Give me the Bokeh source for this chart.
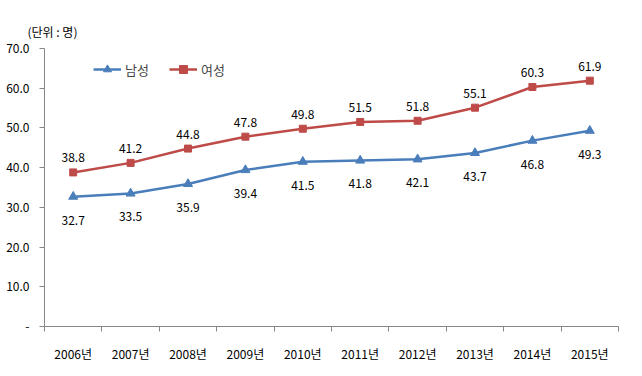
from bokeh.plotting import figure
from bokeh.models import ColumnDataSource, FixedTicker, Legend, LegendItem, Title, Range1d
from bokeh.embed import file_html
from bokeh.resources import INLINE
from bokeh.core.properties import value

years = ["2006년", "2007년", "2008년", "2009년", "2010년", "2011년", "2012년", "2013년", "2014년", "2015년"]
male = [32.7, 33.5, 35.9, 39.4, 41.5, 41.8, 42.1, 43.7, 46.8, 49.3]
female = [38.8, 41.2, 44.8, 47.8, 49.8, 51.5, 51.8, 55.1, 60.3, 61.9]
y_ticks = [0, 10, 20, 30, 40, 50, 60, 70]
y_tick_labels = ["-", "10.0", "20.0", "30.0", "40.0", "50.0", "60.0", "70.0"]

FONT = "Noto Sans CJK KR"
BLUE = "#4A7EBB"
RED = "#BE4B48"

xs = [i + 0.5 for i in range(len(years))]
src = ColumnDataSource(dict(
    x=xs, male=male, female=female,
    male_lbl=[f"{v:.1f}" for v in male],
    female_lbl=[f"{v:.1f}" for v in female],
))

p = figure(width=642, height=376, output_backend="svg", toolbar_location=None,
           x_range=Range1d(0, len(years)), y_range=Range1d(0, 70),
           min_border_left=44, min_border_right=24, min_border_top=48, min_border_bottom=50)
p.outline_line_color = None
p.xgrid.grid_line_color = None
p.ygrid.grid_line_color = None
p.background_fill_color = "white"
p.border_fill_color = "white"

# X axis
p.xaxis.ticker = FixedTicker(ticks=xs, minor_ticks=list(range(len(years) + 1)))
p.xaxis.major_label_overrides = {x: y for x, y in zip(xs, years)}
p.xaxis.major_tick_line_color = None
p.xaxis.minor_tick_in = 0
p.xaxis.minor_tick_out = 5
p.xaxis.minor_tick_line_color = "#868686"
p.xaxis.axis_line_color = "#868686"
p.xaxis.major_label_text_font = FONT
p.xaxis.major_label_text_font_size = "12px"
p.xaxis.major_label_text_color = "#000000"
p.xaxis.major_label_standoff = 12

# Y axis
p.yaxis.ticker = FixedTicker(ticks=y_ticks, minor_ticks=[])
p.yaxis.major_label_overrides = {t: l for t, l in zip(y_ticks, y_tick_labels)}
p.yaxis.major_tick_in = 0
p.yaxis.major_tick_out = 5
p.yaxis.major_tick_line_color = "#868686"
p.yaxis.axis_line_color = "#868686"
p.yaxis.major_label_text_font = FONT
p.yaxis.major_label_text_font_size = "12px"
p.yaxis.major_label_text_color = "#000000"
p.yaxis.major_label_standoff = 10

# Lines and markers
lm = p.line("x", "male", source=src, line_color=BLUE, line_width=2.5)
mm = p.scatter("x", "male", source=src, marker="triangle", size=9, fill_color=BLUE, line_color=BLUE)
lf = p.line("x", "female", source=src, line_color=RED, line_width=2.5)
mf = p.scatter("x", "female", source=src, marker="square", size=7, fill_color=RED, line_color=RED)

# Data labels
p.text("x", "female", text="female_lbl", source=src, text_align="center", text_baseline="bottom",
       y_offset=-10, text_font=value(FONT), text_font_size="12px", text_color="#000000")
p.text("x", "male", text="male_lbl", source=src, text_align="center", text_baseline="top",
       y_offset=19, text_font=value(FONT), text_font_size="12px", text_color="#000000")

legend = Legend(items=[LegendItem(label="남성", renderers=[lm, mm]),
                       LegendItem(label="여성", renderers=[lf, mf])],
                orientation="horizontal", location=(49, 247),
                border_line_color=None, background_fill_alpha=0,
                label_text_font=FONT, label_text_font_size="13px",
                glyph_width=28, label_standoff=4, spacing=20, padding=4)
p.add_layout(legend)

p.add_layout(Title(text="(단위 : 명)", align="left", offset=-17, standoff=17,
                   text_font=FONT, text_font_size="12px", text_font_style="normal",
                   text_color="#000000"), "above")

open("out.html", "w").write(file_html(p, INLINE))
